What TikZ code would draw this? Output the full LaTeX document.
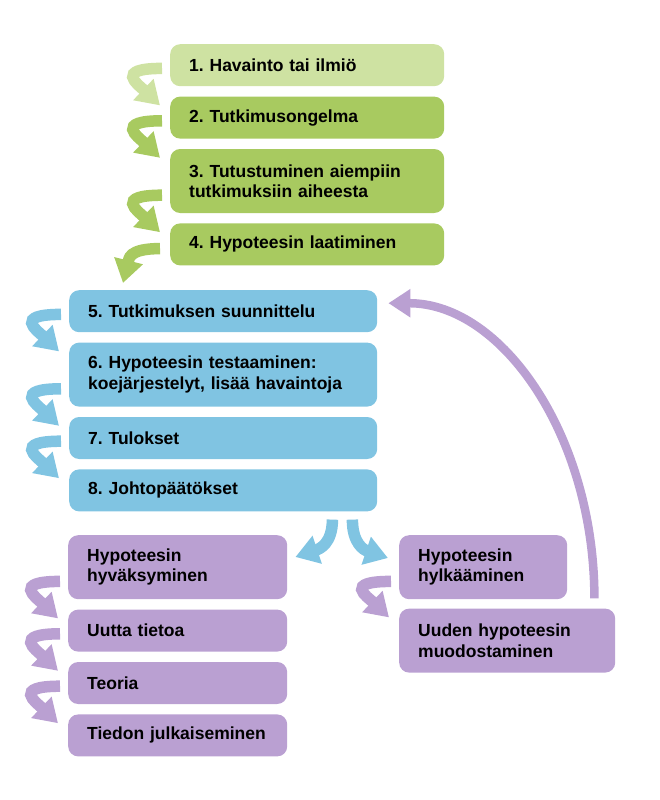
\documentclass[tikz,border=0pt]{standalone}
\usepackage{fontspec}
\setmainfont{Liberation Sans}
\usetikzlibrary{positioning,arrows.meta}
\frenchspacing

\definecolor{palegreen}{RGB}{206,226,162}
\definecolor{leafgreen}{RGB}{168,202,96}
\definecolor{skyblue}{RGB}{128,196,226}
\definecolor{lilac}{RGB}{186,160,210}

\tikzset{
  stepbox/.style={rectangle, rounded corners=10pt, inner xsep=19pt, inner ysep=0pt,
    align=left, font=\bfseries\fontsize{17.5}{20.5}\selectfont, text width=#1},
  one/.style={minimum height=42pt},
  two/.style={minimum height=64pt},
  turn/.style={line width=11.5pt, -{Triangle[length=23pt,width=28pt]}},
}

\begin{document}
\begin{tikzpicture}[x=1pt,y=1pt]
    \useasboundingbox (0,0) rectangle (659,-800);

    % Green steps
    \node[stepbox=236pt, one, fill=palegreen, anchor=north west] (havainto) at (170,-44) {1. Havainto tai ilmiö};
    \node[stepbox=236pt, one, fill=leafgreen, below=10pt of havainto] (ongelma) {2. Tutkimusongelma};
    \node[stepbox=236pt, two, fill=leafgreen, below=10pt of ongelma] (aiempi) {3. Tutustuminen aiempiin\\tutkimuksiin aiheesta};
    \node[stepbox=236pt, one, fill=leafgreen, below=10pt of aiempi] (hypo) {4. Hypoteesin laatiminen};

    % Blue steps
    \node[stepbox=270pt, one, fill=skyblue, anchor=north west] (suunn) at (69,-290) {5. Tutkimuksen suunnittelu};
    \node[stepbox=270pt, two, fill=skyblue, below=10pt of suunn] (testaus) {6. Hypoteesin testaaminen:\\koejärjestelyt, lisää havaintoja};
    \node[stepbox=270pt, one, fill=skyblue, below=10pt of testaus] (tulokset) {7. Tulokset};
    \node[stepbox=270pt, one, fill=skyblue, below=10pt of tulokset] (johto) {8. Johtopäätökset};

    % Purple steps
    \node[stepbox=181pt, two, fill=lilac, anchor=north west] (hyvaks) at (68,-535) {Hypoteesin\\hyväksyminen};
    \node[stepbox=181pt, one, fill=lilac, below=10pt of hyvaks] (tietoa) {Uutta tietoa};
    \node[stepbox=181pt, one, fill=lilac, below=10pt of tietoa] (teoria) {Teoria};
    \node[stepbox=181pt, one, fill=lilac, below=10pt of teoria] (julkaisu) {Tiedon julkaiseminen};
    \node[stepbox=130pt, two, fill=lilac, anchor=north west] (hylk) at (399,-535) {Hypoteesin\\hylkääminen};
    \node[stepbox=178pt, two, fill=lilac, below=9pt of hylk.south west, anchor=north west] (uusi) {Uuden hypoteesin\\muodostaminen};

    % Bent arrows down each column
    \foreach \a/\b/\c in {havainto/ongelma/palegreen, ongelma/aiempi/leafgreen, aiempi/hypo/leafgreen,
        suunn/testaus/skyblue, testaus/tulokset/skyblue, tulokset/johto/skyblue,
        hyvaks/tietoa/lilac, tietoa/teoria/lilac, teoria/julkaisu/lilac, hylk/uusi/lilac}
      \draw[turn, \c] ([xshift=-8pt,yshift=18pt]\a.south west) .. controls +(-48,0) and +(-22,21) .. ([xshift=-10pt,yshift=-9pt]\b.north west);

    % Green to blue
    \draw[turn, leafgreen] ([xshift=-10pt,yshift=17pt]hypo.south west) .. controls +(-32,0) and +(6,24) .. ([xshift=54pt,yshift=7pt]suunn.north west);

    % Split after conclusions
    \draw[turn, skyblue] ([xshift=-45pt,yshift=-8pt]johto.south east) .. controls +(0,-24) and +(24,8) .. ([xshift=8pt,yshift=-22pt]hyvaks.north east);
    \draw[turn, skyblue] ([xshift=-25pt,yshift=-8pt]johto.south east) .. controls +(0,-24) and +(-24,8) .. ([xshift=-11pt,yshift=-23pt]hylk.north west);

    % Back to planning
    \draw[line width=8.5pt, lilac, -{Triangle[length=22pt,width=27pt]}] ([xshift=-21pt,yshift=10pt]uusi.north east) .. controls +(0,162) and +(114,0) .. ([xshift=11pt,yshift=8pt]suunn.east);
\end{tikzpicture}
\end{document}
